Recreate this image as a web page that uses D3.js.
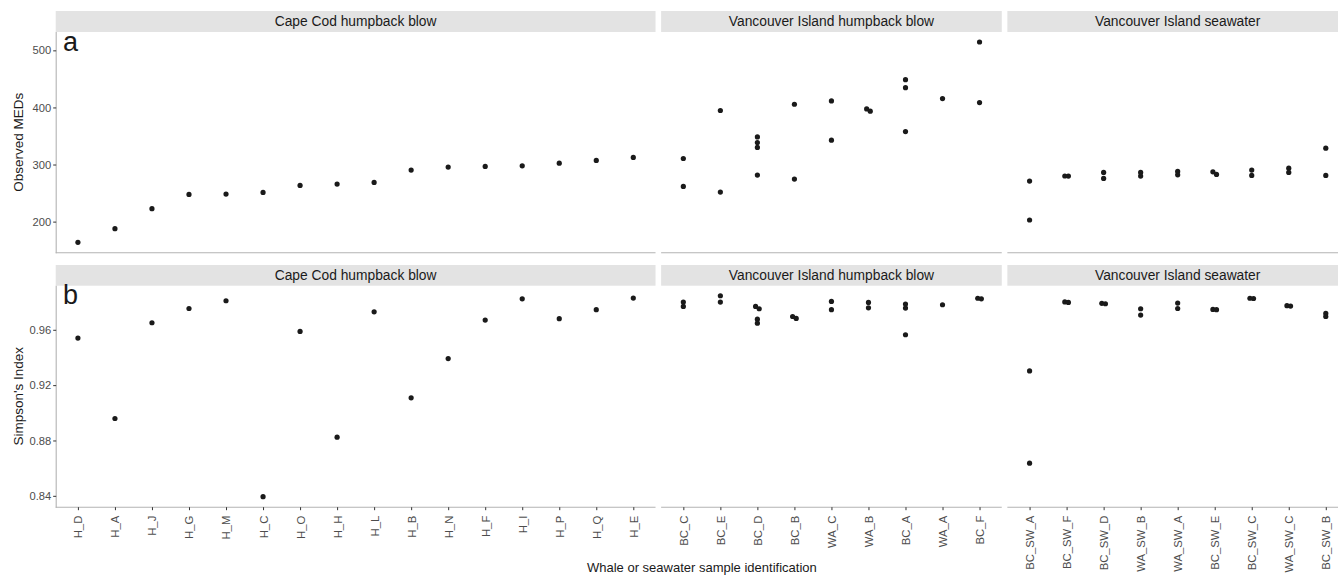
<!DOCTYPE html>
<html><head><meta charset="utf-8">
<script src="https://cdn.jsdelivr.net/npm/d3@7"></script>
<style>
body{margin:0;background:#fff}
svg{display:block}
text{font-family:"Liberation Sans",Arial,Helvetica,sans-serif}
</style>
</head><body>
<svg id="chart" width="1338" height="575"></svg>
<script>
// ---------- data ----------
const facetNames = ["Cape Cod humpback blow", "Vancouver Island humpback blow", "Vancouver Island seawater"];

const capeCodSamples = ["H_D","H_A","H_J","H_G","H_M","H_C","H_O","H_H","H_L","H_B","H_N","H_F","H_I","H_P","H_Q","H_E"];
const vancouverSamples = ["BC_C","BC_E","BC_D","BC_B","WA_C","WA_B","BC_A","WA_A","BC_F"];
const seawaterSamples = ["BC_SW_A","BC_SW_F","BC_SW_D","WA_SW_B","WA_SW_A","BC_SW_E","BC_SW_C","WA_SW_C","BC_SW_B"];

// Observed MEDs (panel a), one list of replicate values per sample
const capeCodMEDs = [[163.8],[187.6],[222.6],[247.7],[248.3],[251.2],[263.4],[265.7],[268.7],[290.2],[295.5],[296.6],[297.8],[302.4],[307.2],[312.4]];
const vancouverMEDs = [[310.6,261.7],[394.6,251.7],[348.4,338.6,329.9,281.5],[405.6,274.5],[411.4,342.7],[397.4,393.4],[448.7,434.7,357.8],[415.5],[514.6,408.6]];
const seawaterMEDs = [[202.8,271.0],[279.7,279.9],[286.1,275.7],[279.7,286.1],[287.9,282.0],[282.6,287.2],[290.2,280.9],[293.7,286.1],[328.7,280.9]];

// Simpson's Index (panel b)
const capeCodSimpson = [[0.9540],[0.8959],[0.9651],[0.9754],[0.9810],[0.8394],[0.9588],[0.8824],[0.9730],[0.9108],[0.9392],[0.9670],[0.9824],[0.9680],[0.9745],[0.9829]];
const vancouverSimpson = [[0.9800,0.9769],[0.9846,0.9800],[0.9769,0.9752,0.9677,0.9648],[0.9696,0.9682],[0.9805,0.9745],[0.9798,0.9759],[0.9786,0.9757,0.9564],[0.9781],[0.9828,0.9824]];
const seawaterSimpson = [[0.9303,0.8636],[0.9798,0.9801],[0.9788,0.9791],[0.9752,0.9706],[0.9793,0.9754],[0.9747,0.9745],[0.9826,0.9828],[0.9771,0.9774],[0.9718,0.9696]];

const medTicks = [200, 300, 400, 500];
const simpsonTicks = [0.84, 0.88, 0.92, 0.96];

const rowLabels = ["a", "b"];
const yTitles = ["Observed MEDs", "Simpson's Index"];
const xTitle = "Whale or seawater sample identification";

// ---------- layout ----------
const svg = d3.select("#chart");
const plotLeft = 55.7, plotRight = 1348, gap = 5.6;
const rows = [
  {stripTop: 11, top: 32, bottom: 252.3, series: [capeCodMEDs, vancouverMEDs, seawaterMEDs], ticks: medTicks, fmt: d3.format("d")},
  {stripTop: 265, top: 285.7, bottom: 506.7, series: [capeCodSimpson, vancouverSimpson, seawaterSimpson], ticks: simpsonTicks, fmt: d3.format(".2f")}
];
const sampleSets = [capeCodSamples, vancouverSamples, seawaterSamples];

// facet widths proportional to (n - 1 + 1.2)
const units = sampleSets.map(s => s.length - 1 + 1.2);
const totalUnits = d3.sum(units);
const step = (plotRight - plotLeft - gap * (sampleSets.length - 1)) / totalUnits;
let cursor = plotLeft;
const facetX = sampleSets.map((s, i) => {
  const x0 = cursor, x1 = cursor + units[i] * step;
  cursor = x1 + gap;
  return d3.scalePoint().domain(s).range([x0, x1]).padding(0.6);
});

const axisColor = "#b3b3b3", tickColor = "#333333", labelColor = "#4d4d4d";

rows.forEach((row, r) => {
  const all = row.series.flat(2);
  const [mn, mx] = d3.extent(all);
  const pad = (mx - mn) * 0.05;
  const y = d3.scaleLinear().domain([mn - pad, mx + pad]).range([row.bottom, row.top]);

  facetX.forEach((x, f) => {
    const [x0, x1] = x.range();
    // strip
    svg.append("rect").attr("x", x0).attr("y", row.stripTop).attr("width", x1 - x0)
      .attr("height", row.top - row.stripTop).attr("fill", "#e3e3e3");
    svg.append("text").attr("x", (x0 + x1) / 2).attr("y", (row.stripTop + row.top) / 2 + 4.8)
      .attr("text-anchor", "middle").attr("font-size", 13.8).attr("fill", "#1a1a1a").text(facetNames[f]);

    // bottom axis line
    svg.append("line").attr("x1", x0).attr("x2", x1).attr("y1", row.bottom + 0.5).attr("y2", row.bottom + 0.5)
      .attr("stroke", axisColor).attr("stroke-width", 1.1);

    // x ticks (only bottom row shows labels)
    const xa = svg.append("g").attr("transform", `translate(0,${row.bottom + 0.5})`)
      .call(d3.axisBottom(x).tickSize(3).tickPadding(4).tickFormat(r === 1 ? (d => d) : ""));
    xa.select(".domain").remove();
    xa.selectAll(".tick line").attr("stroke", tickColor);
    if (r === 1) {
      xa.selectAll(".tick text").attr("font-size", 11.3).style("fill", labelColor)
        .attr("font-family", '"Liberation Sans",Arial,sans-serif')
        .attr("transform", "rotate(-90)").attr("text-anchor", "end")
        .attr("x", -8.5).attr("y", 0).attr("dy", "0.35em");
    } else {
      xa.selectAll(".tick line").remove();
    }

    // points with a small dodge for overlapping replicates
    const data = [];
    x.domain().forEach((s, i) => {
      const vals = row.series[f][i].map(v => ({s, v, py: y(v)})).sort((a, b) => a.py - b.py);
      let groups = [];
      vals.forEach(p => {
        const g = groups[groups.length - 1];
        if (g && Math.abs(p.py - g[g.length - 1].py) < 3) g.push(p); else groups.push([p]);
      });
      groups.forEach(g => g.forEach((p, k) => { p.dx = (k - (g.length - 1) / 2) * 3.6; data.push(p); }));
    });
    svg.append("g").selectAll("circle").data(data).join("circle")
      .attr("cx", d => x(d.s) + d.dx).attr("cy", d => d.py).attr("r", 2.6).attr("fill", "#1a1a1a");
  });

  // left axis
  svg.append("line").attr("x1", plotLeft + 0.5).attr("x2", plotLeft + 0.5).attr("y1", row.top).attr("y2", row.bottom + 1)
    .attr("stroke", axisColor).attr("stroke-width", 1.1);
  const ya = svg.append("g").attr("transform", `translate(${plotLeft + 0.5},0)`)
    .call(d3.axisLeft(y).tickValues(row.ticks).tickFormat(row.fmt).tickSize(3).tickPadding(2));
  ya.select(".domain").remove();
  ya.selectAll(".tick line").attr("stroke", tickColor);
  ya.selectAll(".tick text").attr("font-size", 11.2).style("fill", labelColor)
    .attr("font-family", '"Liberation Sans",Arial,sans-serif');

  // y title
  svg.append("text").attr("transform", `translate(23,${(row.top + row.bottom) / 2}) rotate(-90)`)
    .attr("text-anchor", "middle").attr("font-size", 13.5).attr("fill", "#1a1a1a").text(yTitles[r]);

  // panel letter
  svg.append("text").attr("x", 63).attr("y", row.top + 18.5).attr("font-size", 27).attr("fill", "#1a1a1a").text(rowLabels[r]);
});

// x title
svg.append("text").attr("x", (plotLeft + plotRight) / 2).attr("y", 571.5).attr("text-anchor", "middle")
  .attr("font-size", 13).attr("fill", "#1a1a1a").text(xTitle);
</script>
</body></html>
